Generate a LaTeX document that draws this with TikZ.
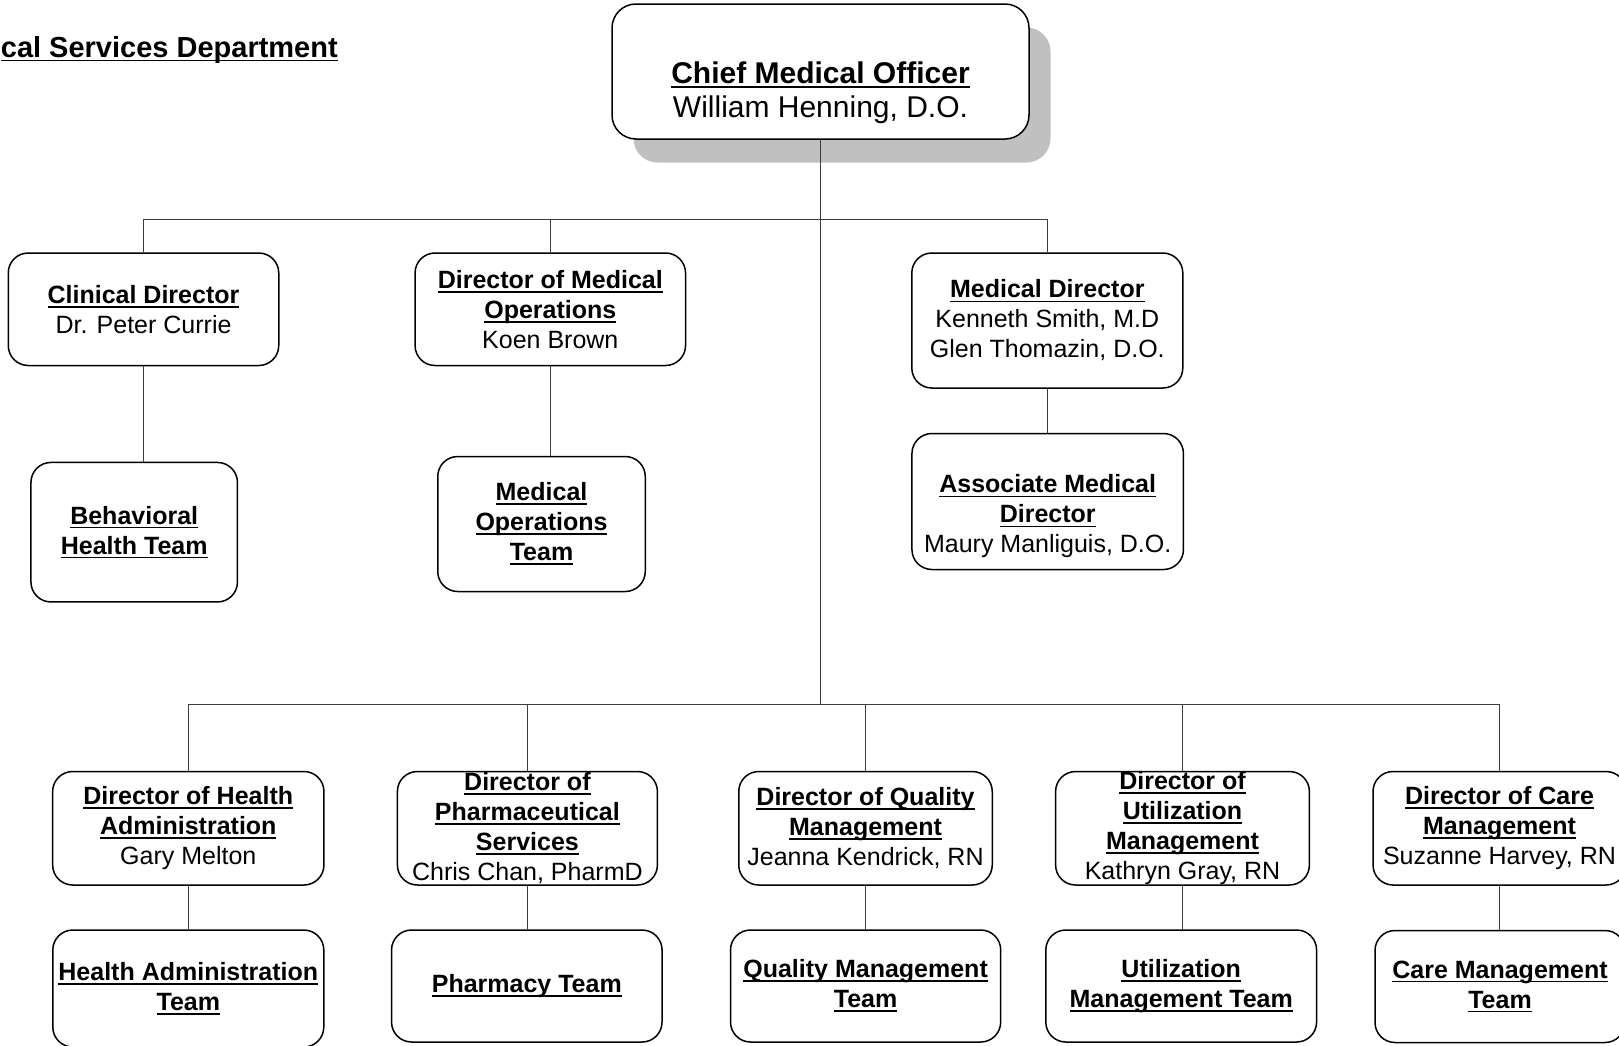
\documentclass[tikz,border=0pt]{standalone}
\usepackage{fontspec}
\setmainfont{Liberation Sans}
% bold heading text with a fixed-depth underline
\newsavebox\ulsave
\newcommand\hdl[1]{\leavevmode\sbox\ulsave{\bfseries #1}\rlap{\rule[-4.4pt]{\wd\ulsave}{1.8pt}}\usebox\ulsave}
\definecolor{shadowgray}{RGB}{192,192,192}
\definecolor{linegray}{RGB}{60,60,60}

\tikzset{
  orgbox/.style={draw=black, line width=1.5pt, fill=white, rounded corners=20pt, inner sep=0pt},
  lbl/.style={align=center, inner sep=0pt, font=\fontsize{25}{30}\selectfont},
  conn/.style={draw=linegray, line width=1pt},
}

\begin{document}
\begin{tikzpicture}[x=1pt, y=-1pt]
\useasboundingbox (0,0) rectangle (1619,1045);
\clip (0,0) rectangle (1619,1045);

% department heading
\node[anchor=base east, inner sep=0pt, font=\fontsize{29}{34}\selectfont] (dept) at (338,57) {\hdl{cal Services Department}};

% chief medical officer with drop shadow
\node[fill=shadowgray, rounded corners=24pt, inner sep=0pt, minimum width=417pt, minimum height=135pt] (cmo-sh) at (842,95) {};
\node[orgbox, rounded corners=24pt, minimum width=417pt, minimum height=135pt] (cmo) at (820.5,71.5) {};
\node[lbl, font=\fontsize{30}{34}\selectfont] (cmo-t) at (820.5,93) {\hdl{Chief Medical Officer}\\William Henning, D.O.};

% first tier
\node[orgbox, minimum width=270.5pt, minimum height=112.5pt] (clin) at (143.5,309.25) {};
\node[lbl] (clin-t) at (clin.center) {\hdl{Clinical Director}\\Dr. Peter Currie};
\node[orgbox, minimum width=270.5pt, minimum height=112.5pt] (dmo) at (550.3,309.25) {};
\node[lbl] (dmo-t) at (dmo.center) {\hdl{Director of Medical}\\\hdl{Operations}\\Koen Brown};
\node[orgbox, minimum width=271pt, minimum height=135pt] (mdir) at (1047.3,320.5) {};
\node[lbl] (mdir-t) at (mdir.center) {\hdl{Medical Director}\\Kenneth Smith, M.D\\Glen Thomazin, D.O.};

% teams under the first tier
\node[orgbox, minimum width=206.5pt, minimum height=139.5pt] (beh) at (134.2,532.2) {};
\node[lbl] (beh-t) at (beh.center) {\hdl{Behavioral}\\\hdl{Health Team}};
\node[orgbox, minimum width=207.5pt, minimum height=135pt] (mot) at (541.5,524) {};
\node[lbl] (mot-t) at (mot.center) {\hdl{Medical}\\\hdl{Operations}\\\hdl{Team}};
\node[orgbox, minimum width=271.5pt, minimum height=136pt] (amd) at (1047.7,501.5) {};
\node[lbl] (amd-t) at (1047.7,516.5) {\hdl{Associate Medical}\\\hdl{Director}\\Maury Manliguis, D.O.};

% second tier
\node[orgbox, minimum width=271.3pt, minimum height=113.5pt] (dha) at (188.3,828.25) {};
\node[lbl] (dha-t) at (dha.center) {\hdl{Director of Health}\\\hdl{Administration}\\Gary Melton};
\node[orgbox, minimum width=260pt, minimum height=113.5pt] (dps) at (527.4,828.25) {};
\node[lbl] (dps-t) at (dps.center) {\hdl{Director of}\\\hdl{Pharmaceutical}\\\hdl{Services}\\Chris Chan, PharmD};
\node[orgbox, minimum width=253.5pt, minimum height=113.5pt] (dqm) at (865.5,828.25) {};
\node[lbl] (dqm-t) at (dqm.center) {\hdl{Director of Quality}\\\hdl{Management}\\Jeanna Kendrick, RN};
\node[orgbox, minimum width=253.8pt, minimum height=113.5pt] (dum) at (1182.5,828.25) {};
\node[lbl] (dum-t) at (dum.center) {\hdl{Director of}\\\hdl{Utilization}\\\hdl{Management}\\Kathryn Gray, RN};
\node[orgbox, minimum width=253pt, minimum height=113.5pt] (dcm) at (1499.5,828.25) {};
\node[lbl] (dcm-t) at (dcm.center) {\hdl{Director of Care}\\\hdl{Management}\\Suzanne Harvey, RN};

% teams under the second tier
\node[orgbox, minimum width=271pt, minimum height=117pt] (hat) at (188.3,988.5) {};
\node[lbl] (hat-t) at (hat.center) {\hdl{Health Administration}\\\hdl{Team}};
\node[orgbox, minimum width=270.5pt, minimum height=112pt] (pht) at (526.8,986) {};
\node[lbl] (pht-t) at (pht.center) {\hdl{Pharmacy Team}};
\node[orgbox, minimum width=270.2pt, minimum height=112pt] (qmt) at (865.6,986) {};
\node[lbl] (qmt-t) at (qmt.center) {\hdl{Quality Management}\\\hdl{Team}};
\node[orgbox, minimum width=270.8pt, minimum height=112pt] (umt) at (1181.2,986) {};
\node[lbl] (umt-t) at (umt.center) {\hdl{Utilization}\\\hdl{Management Team}};
\node[orgbox, minimum width=250pt, minimum height=112pt] (cmt) at (1500,986.5) {};
\node[lbl] (cmt-t) at (cmt.center) {\hdl{Care Management}\\\hdl{Team}};

% bus lines
\coordinate (bus1) at (821,219);
\coordinate (bus2) at (821,704);

\draw[conn] (cmo.south) -- (cmo.south |- bus2);
\draw[conn] (clin.north) -- (clin.north |- bus1) -- (mdir.north |- bus1) -- (mdir.north);
\draw[conn] (dmo.north) -- (dmo.north |- bus1);
\draw[conn] (dha.north) -- (dha.north |- bus2) -- (dcm.north |- bus2) -- (dcm.north);
\draw[conn] (dps.north) -- (dps.north |- bus2);
\draw[conn] (dqm.north) -- (dqm.north |- bus2);
\draw[conn] (dum.north) -- (dum.north |- bus2);

% links to the teams
\draw[conn] (clin.south) -- (clin.south |- beh.north);
\draw[conn] (dmo.south) -- (dmo.south |- mot.north);
\draw[conn] (mdir.south) -- (mdir.south |- amd.north);
\draw[conn] (dha.south) -- (dha.south |- hat.north);
\draw[conn] (dps.south) -- (dps.south |- pht.north);
\draw[conn] (dqm.south) -- (dqm.south |- qmt.north);
\draw[conn] (dum.south) -- (dum.south |- umt.north);
\draw[conn] (dcm.south) -- (dcm.south |- cmt.north);
\end{tikzpicture}
\end{document}
